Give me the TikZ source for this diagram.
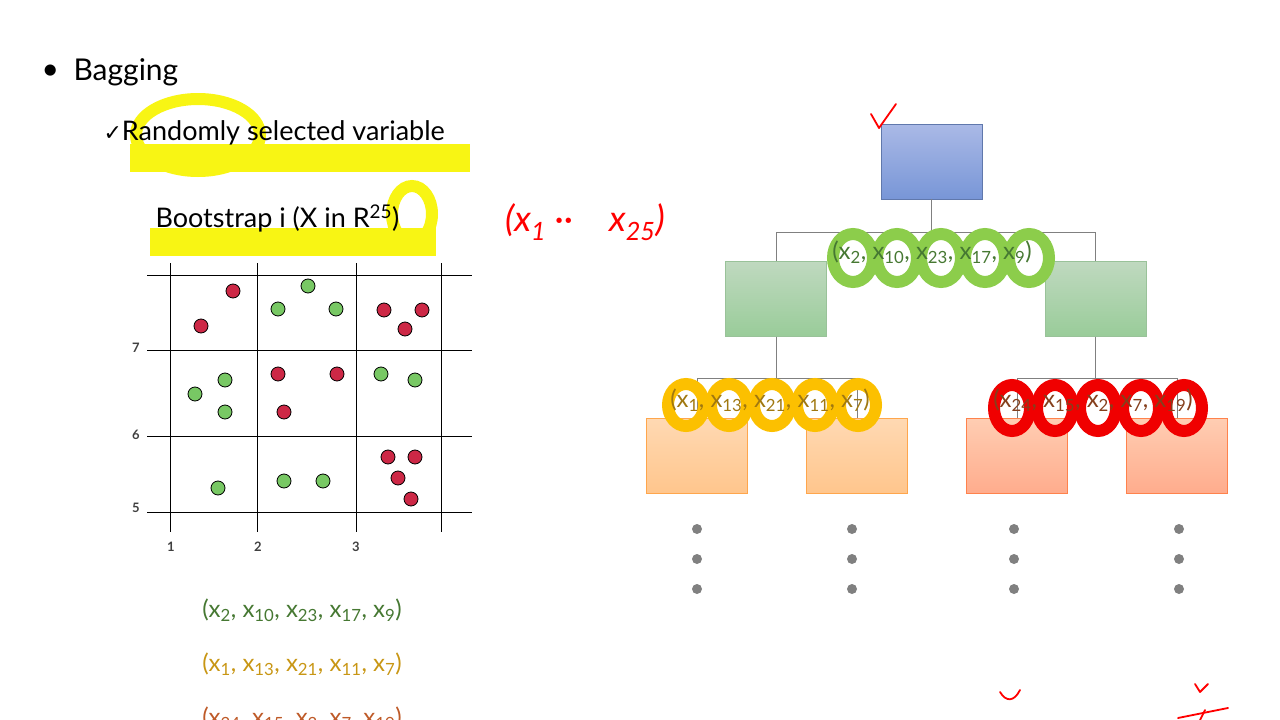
\documentclass[tikz,border=0pt]{standalone}
\usepackage{fontspec}
\setmainfont{Lato}
\newfontfamily\symfont{DejaVu Sans}
\usetikzlibrary{positioning}
\definecolor{hiyel}{RGB}{248,245,20}
\definecolor{loopgreen}{RGB}{140,205,75}
\definecolor{loopgold}{RGB}{252,192,0}
\definecolor{loopred}{RGB}{240,0,0}
\definecolor{txgreen}{RGB}{70,120,50}
\definecolor{txgold}{RGB}{200,150,20}
\definecolor{txrust}{RGB}{190,90,40}
\definecolor{dotred}{RGB}{205,40,70}
\definecolor{dotgreen}{RGB}{120,200,100}
\definecolor{rootA}{RGB}{170,185,230}
\definecolor{rootB}{RGB}{120,150,215}
\newcommand\xs[1]{x\textsubscript{#1}}
\tikzset{
  box/.style={draw=#1, minimum width=101pt, minimum height=75pt, inner sep=0pt},
  sample/.style={font=\fontsize{24}{26}\selectfont, inner sep=0pt},
  pt/.style={circle, draw=black, line width=0.8pt, fill=#1, minimum size=14pt, inner sep=0pt},
  more/.style={circle, fill=gray, minimum size=10pt, inner sep=0pt},
  scribble/.style={line width=12pt, #1, line cap=round},
  ink/.style={red, line width=1.8pt, line cap=round, line join=round}
}
\begin{document}
\begin{tikzpicture}[x=1pt,y=-1pt]
   \useasboundingbox (0,0) rectangle (1280,720);
   % highlighter on the left text
   \draw[scribble=hiyel] (198,135) ellipse (62 and 36);
   \fill[hiyel] (130,144) rectangle (470,172);
   \fill[hiyel] (150,228) rectangle (436,256);
   \draw[scribble=hiyel] (412,214) ellipse (20 and 28);
   \node[anchor=west, font=\fontsize{30}{32}\selectfont] (bul) at (38,72) {\textbullet};
   \node[anchor=west, font=\fontsize{30}{32}\selectfont] (bag) at (70,72) {Bagging};
   \node[anchor=west, font=\fontsize{27}{30}\selectfont] (rsv) at (100,133) {{\symfont\fontsize{22}{24}\selectfont ✓}Randomly selected variable};
   \node[anchor=west, font=\fontsize{27}{30}\selectfont] (boot) at (152,218) {Bootstrap i (X in R\textsuperscript{25})};
   \node[red, font=\fontsize{36}{38}\selectfont\itshape] (hand) at (585,222) {(x\textsubscript{1} \textperiodcentered\textperiodcentered\quad x\textsubscript{25})};
   % grid plot
   \foreach \gx in {170,257,356,441} \draw[line width=1pt] (\gx,263) -- (\gx,532);
   \foreach \gy in {275,350,436,512} \draw[line width=1pt] (147,\gy) -- (472,\gy);
   \foreach \lab/\gy in {7/348,6/435,5/508} \node[font=\fontsize{13}{14}\selectfont\bfseries, text=darkgray] (y\lab) at (136,\gy) {\lab};
   \foreach \lab/\gx in {1/171,2/258,3/356} \node[font=\fontsize{13}{14}\selectfont\bfseries, text=darkgray] (x\lab) at (\gx,547) {\lab};
   \foreach \px/\py in {233/291,201/326,384/310,422/310,405/329,278/374,337/374,284/412,388/457,415/457,398/478,411/499}
     \node[pt=dotred] at (\px,\py) {};
   \foreach \px/\py in {308/286,278/309,336/309,225/380,195/394,225/412,381/374,415/380,218/488,284/481,323/481}
     \node[pt=dotgreen] at (\px,\py) {};
   % samples
   \node[sample, text=txgreen] (s1) at (302,610) {(\xs{2}, \xs{10}, \xs{23}, \xs{17}, \xs{9})};
   \node[sample, text=txgold] (s2) at (302,664) {(\xs{1}, \xs{13}, \xs{21}, \xs{11}, \xs{7})};
   \node[sample, text=txrust] (s3) at (302,718) {(\xs{24}, \xs{15}, \xs{2}, \xs{7}, \xs{19})};
   % tree
   \node[box=rootB!80!black, top color=rootA, bottom color=rootB] (root) at (931.5,161.5) {};
   \node[box=green!40!black!40, top color=green!40!black!25, bottom color=green!50!black!40] (gl) at (776,299) {};
   \node[box=green!40!black!40, top color=green!40!black!25, bottom color=green!50!black!40] (gr) at (1095.5,299) {};
   \node[box=orange!70, top color=orange!30, bottom color=orange!45] (ol) at (697,456) {};
   \node[box=orange!70, top color=orange!30, bottom color=orange!45] (or) at (857,456) {};
   \node[box=red!40!orange!70, top color=red!30!orange!30, bottom color=red!45!orange!45] (rl) at (1017,456) {};
   \node[box=red!40!orange!70, top color=red!30!orange!30, bottom color=red!45!orange!45] (rr) at (1177,456) {};
   \coordinate (j0) at (931.5,232);
   \coordinate (j1) at (776,378);
   \coordinate (j2) at (1095.5,378);
   \draw[gray] (root) -- (j0) (j0) -| (gl.north) (j0) -| (gr.north);
   \draw[gray] (gl) -- (j1) (j1) -| (ol.north) (j1) -| (or.north);
   \draw[gray] (gr) -- (j2) (j2) -| (rl.north) (j2) -| (rr.north);
   % scribbles over the tree labels
   \foreach \i in {0,...,4} {
     \draw[scribble=loopgreen] (853+\i*44,258) ellipse (20 and 24);
     \draw[scribble=loopgold] (686+\i*43,405) ellipse (18 and 21);
     \draw[scribble=loopred] (1012+\i*43,408) ellipse (18 and 23);
   }
   \node[sample, text=txgreen] (t1) at (932,252) {(\xs{2}, \xs{10}, \xs{23}, \xs{17}, \xs{9})};
   \node[sample, text=txgold!80!black] (t2) at (770,400) {(\xs{1}, \xs{13}, \xs{21}, \xs{11}, \xs{7})};
   \node[sample, text=txrust!70!black] (t3) at (1093,400) {(\xs{24}, \xs{15}, \xs{2}, \xs{7}, \xs{19})};
   \foreach \dx in {697,852,1014,1179}
     \foreach \dy in {529,559,589}
       \node[more] at (\dx,\dy) {};
   % hand marks
   \draw[ink] (871,114) -- (879,128) -- (896,104);
   \draw[ink] (1000,692) .. controls (1006,702) and (1014,702) .. (1020,690);
   \draw[ink] (1195,684) -- (1200,692) -- (1208,684);
   \draw[ink] (1178,718) -- (1228,708);
   \draw[ink] (1205,710) -- (1200,720);
\end{tikzpicture}
\end{document}
